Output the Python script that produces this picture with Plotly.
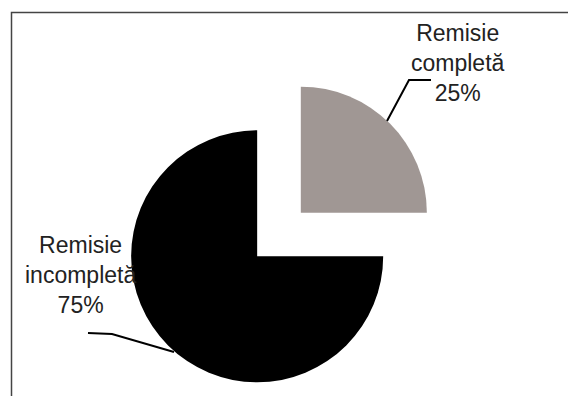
import plotly.graph_objects as go

categories = ["Remisie<br>completă", "Remisie<br>incompletă"]
values = [25, 75]
colors = ["#a09794", "#000000"]

W, H = 568, 396

def px(x):
    return x / W

def py(y):
    return 1 - y / H

fig = go.Figure()
fig.add_trace(go.Pie(
    labels=categories,
    values=values,
    sort=False,
    direction="clockwise",
    rotation=0,
    pull=[0.245, 0.245],
    marker=dict(colors=colors, line=dict(width=0)),
    textinfo="none",
    hoverinfo="label+percent",
    showlegend=False,
    domain=dict(x=[px(122.1), px(435.9)], y=[py(392.4), py(76.6)]),
))

total = sum(values)
label_pos = [(458, 63), (80, 275)]
for cat, v, (x, y) in zip(categories, values, label_pos):
    fig.add_annotation(
        x=px(x), y=py(y), xref="paper", yref="paper",
        text=f"{cat}<br>{round(100 * v / total)}%",
        showarrow=False, align="center",
        xanchor="center", yanchor="middle",
        font=dict(family="Liberation Sans, Arial, sans-serif", size=23, color="#222222"),
    )

def path(pts):
    return "M " + " L ".join(f"{px(x)},{py(y)}" for x, y in pts)

shapes = [
    # leader lines
    dict(type="path", xref="paper", yref="paper",
         path=path([(387, 121), (409, 80), (431, 80)]),
         line=dict(color="#000000", width=2)),
    dict(type="path", xref="paper", yref="paper",
         path=path([(88, 333), (112, 334), (174, 352)]),
         line=dict(color="#000000", width=2)),
    # frame (top and left edges)
    dict(type="path", xref="paper", yref="paper",
         path=path([(11.5, 400), (11.5, 12.5), (570, 12.5)]),
         line=dict(color="#444444", width=1.5)),
]

fig.update_layout(
    width=W, height=H,
    autosize=False,
    margin=dict(l=0, r=0, t=0, b=0),
    paper_bgcolor="white",
    plot_bgcolor="white",
    shapes=shapes,
)

fig.write_html("out.html")
